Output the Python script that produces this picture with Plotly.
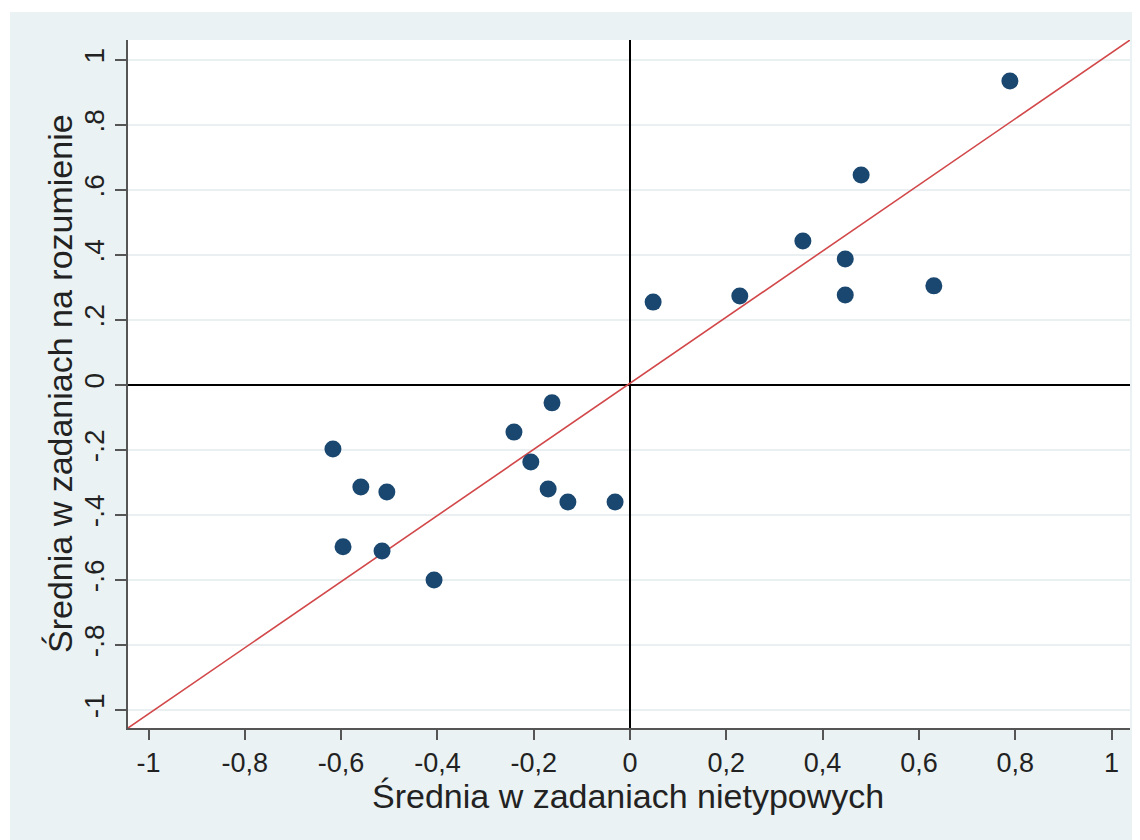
import plotly.graph_objects as go

# Data
srednia_nietypowe = [0.789, 0.480, 0.359, 0.447, 0.228, 0.447, 0.631, 0.048,
                     -0.162, -0.241, -0.617, -0.206, -0.559, -0.505, -0.170,
                     -0.129, -0.031, -0.596, -0.515, -0.407]
srednia_rozumienie = [0.935, 0.646, 0.443, 0.388, 0.274, 0.277, 0.305, 0.255,
                      -0.055, -0.145, -0.197, -0.237, -0.314, -0.329, -0.320,
                      -0.360, -0.360, -0.498, -0.511, -0.600]

x_tick_vals = [-1, -0.8, -0.6, -0.4, -0.2, 0, 0.2, 0.4, 0.6, 0.8, 1]
x_tick_labels = ["-1", "-0,8", "-0,6", "-0,4", "-0,2", "0", "0,2", "0,4", "0,6", "0,8", "1"]
y_tick_vals = [-1, -0.8, -0.6, -0.4, -0.2, 0, 0.2, 0.4, 0.6, 0.8, 1]
y_tick_labels = ["-1", "-.8", "-.6", "-.4", "-.2", "0", ".2", ".4", ".6", ".8", "1"]

x_range = [-1.0426, 1.0384]
y_range = [-1.0554, 1.0615]
# diagonal reference line drawn corner to corner of the plot region
diag_x = x_range
diag_y = y_range

x_title = "Średnia w zadaniach nietypowych"
y_title = "Średnia w zadaniach na rozumienie"

FONT = "Liberation Sans, Arial, Helvetica, sans-serif"
W, H = 1132, 832
ML, MR, MT, MB = 120, 10, 32, 112
pw, ph = W - ML - MR, H - MT - MB

fig = go.Figure()
fig.add_trace(go.Scatter(
    x=diag_x, y=diag_y, mode="lines",
    line=dict(color="#d2484a", width=1.6), hoverinfo="skip", showlegend=False))
fig.add_trace(go.Scatter(
    x=srednia_nietypowe, y=srednia_rozumienie, mode="markers",
    marker=dict(color="#1a476f", size=17, line=dict(width=0)),
    showlegend=False))

fig.update_layout(
    width=W, height=H,
    margin=dict(l=ML, r=MR, t=MT, b=MB, pad=0),
    paper_bgcolor="white",
    plot_bgcolor="rgba(0,0,0,0)",
    font=dict(family=FONT, color="#222222", size=27),
    shapes=[
        dict(type="rect", xref="paper", yref="paper",
             x0=(2 - ML) / pw, x1=(W - ML) / pw,
             y0=-MB / ph, y1=(H - MB - 4) / ph,
             fillcolor="#eaf2f3", line=dict(width=0), layer="below"),
        dict(type="rect", xref="paper", yref="paper",
             x0=0, x1=1, y0=0, y1=1,
             fillcolor="white", line=dict(width=0), layer="below"),
    ],
    annotations=[
        dict(text=x_title, xref="paper", yref="paper",
             x=(620 - ML) / pw, y=(ph - (788 - MT)) / ph,
             xanchor="center", yanchor="middle", showarrow=False,
             font=dict(size=34, family=FONT, color="#222222")),
        dict(text=y_title, xref="paper", yref="paper",
             x=(52 - ML) / pw, y=0.5, textangle=-90,
             xanchor="center", yanchor="middle", showarrow=False,
             font=dict(size=34, family=FONT, color="#222222")),
    ],
    xaxis=dict(
        range=x_range,
        tickmode="array", tickvals=x_tick_vals, ticktext=x_tick_labels,
        showgrid=False,
        zeroline=True, zerolinecolor="black", zerolinewidth=2,
        showline=True, linecolor="#555555", linewidth=2,
        ticks="outside", ticklen=10, tickwidth=2, tickcolor="#555555",
        tickfont=dict(size=27, family=FONT, color="#222222"),
        automargin=False,
    ),
    yaxis=dict(
        range=y_range,
        tickmode="array", tickvals=y_tick_vals, ticktext=y_tick_labels,
        showgrid=True, gridcolor="#eaf0f1", gridwidth=2,
        zeroline=True, zerolinecolor="black", zerolinewidth=2,
        showline=True, linecolor="#555555", linewidth=2,
        ticks="outside", ticklen=11, tickwidth=2, tickcolor="#555555",
        tickangle=-90,
        tickfont=dict(size=28, family=FONT, color="#222222"),
        automargin=False,
    ),
)

fig.write_html("out.html")
